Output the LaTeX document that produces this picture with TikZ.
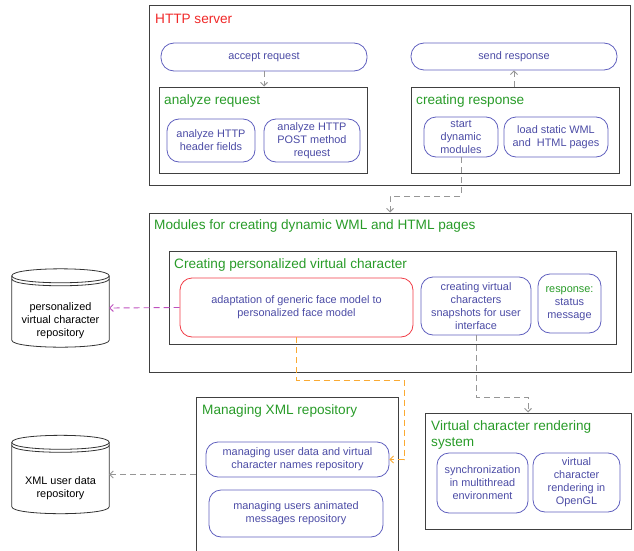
\documentclass[tikz,border=0pt]{standalone}
\usepackage{fontspec}
\setmainfont{Liberation Sans}
\usetikzlibrary{arrows.meta}
\definecolor{taskline}{RGB}{95,95,190}
\definecolor{tasktext}{RGB}{75,75,165}
\definecolor{titlegreen}{RGB}{40,155,40}
\definecolor{titlered}{RGB}{240,40,40}
\definecolor{adaptred}{RGB}{240,60,70}
\definecolor{linkgray}{RGB}{150,150,150}
\definecolor{linkmagenta}{RGB}{190,80,190}
\definecolor{linkorange}{RGB}{250,170,50}

\begin{document}
\begin{tikzpicture}[x=1pt,y=-1pt]

\tikzstyle{frame}=[rectangle, draw=black!75, line width=1pt, inner sep=0pt]
\tikzstyle{title}=[anchor=base west, inner sep=0pt, text=titlegreen, font=\fontsize{13.6}{16}\selectfont]
\tikzstyle{task}=[rectangle, rounded corners=12pt, draw=taskline, line width=0.8pt, text=tasktext, align=center, inner sep=0pt, font=\fontsize{10.9}{13}\selectfont]
\tikzstyle{store}=[rectangle, inner sep=0pt, minimum width=97pt, minimum height=78pt]
\tikzstyle{storeline}=[draw=black!80, line width=0.8pt]
\tikzstyle{storetext}=[align=center, inner sep=0pt, font=\fontsize{10.9}{13}\selectfont]
\tikzstyle{link}=[-{Straight Barb[length=3.5pt,width=7pt]}, dash pattern=on 6pt off 4pt, line width=0.9pt, draw=linkgray]

\clip (0,0) rectangle (634,551);

% frames
\node (http) [frame, minimum width=481pt, minimum height=179pt] at (389.5,95.5) {};
\node (anreq) [frame, minimum width=208pt, minimum height=86pt] at (263,130) {};
\node (crresp) [frame, minimum width=208pt, minimum height=86pt] at (515,130) {};
\node (modules) [frame, minimum width=482pt, minimum height=159pt] at (390,292.5) {};
\node (creatpvc) [frame, minimum width=447pt, minimum height=93pt] at (392.5,297.5) {};
\node (xmlrep) [frame, minimum width=202pt, minimum height=163pt] at (297,478.5) {};
\node (vcrs) [frame, minimum width=206pt, minimum height=116pt] at (528,471) {};

% titles
\node (httptitle) [title, text=titlered] at (155,24) {HTTP server};
\node (anreqtitle) [title] at (164,104) {analyze request};
\node (crresptitle) [title] at (416,104) {creating response};
\node (modtitle) [title] at (154,229) {Modules for creating dynamic WML and HTML pages};
\node (pvctitle) [title] at (174,268) {Creating personalized virtual character};
\node (xmltitle) [title] at (202,414) {Managing XML repository};
\node (vcrstitle) [title, align=left] at (431,446) {Virtual character rendering\\system};

% tasks
\node (accept) [task, minimum width=206pt, minimum height=28pt, rounded corners=13pt] at (264,57) {accept request};
\node (send) [task, minimum width=206pt, minimum height=27pt, rounded corners=13pt] at (514,56.5) {send response};
\node (hdr) [task, minimum width=88pt, minimum height=43pt] at (211,140.5) {analyze HTTP\\header fields};
\node (post) [task, minimum width=96pt, minimum height=43pt] at (312,140.5) {analyze HTTP\\POST method\\request};
\node (startdyn) [task, minimum width=74pt, minimum height=40pt] at (461,137) {start\\dynamic\\modules};
\node (loadstatic) [task, minimum width=104pt, minimum height=40pt] at (556,137) {load static WML\\and~ HTML pages};
\node (adapt) [task, draw=adaptred, minimum width=233pt, minimum height=59pt] at (296.5,307.5) {adaptation of generic face model to\\personalized face model};
\node (snap) [task, minimum width=110pt, minimum height=58pt] at (476,306) {creating virtual\\characters\\snapshots for user\\interface};
\node (status) [task, minimum width=63pt, minimum height=59pt] at (569.5,303.5) {\textcolor{titlegreen}{response:}\\status\\message};
\node (mud) [task, minimum width=183pt, minimum height=35pt] at (297.5,459.5) {managing user data and virtual\\character names repository};
\node (mam) [task, minimum width=174pt, minimum height=47pt] at (296,513.5) {managing users animated\\messages repository};
\node (sync) [task, minimum width=91pt, minimum height=60pt] at (482.5,483) {synchronization\\in multithread\\environment};
\node (ogl) [task, minimum width=87pt, minimum height=59pt] at (576.5,482.5) {virtual\\character\\rendering in\\OpenGL};

% repositories
\node (pvc) [store] at (60.5,308) {};
\node (pvclabel) [storetext] at ([yshift=-13pt]pvc.center) {personalized\\virtual character\\repository};
\node (xmlud) [store] at (60.5,474.5) {};
\node (xmludlabel) [storetext] at ([yshift=-14pt]xmlud.center) {XML user data\\repository};
\foreach \db in {pvc,xmlud} {
  \draw [storeline] ([yshift=-7pt]\db.north west) -- ([yshift=7pt]\db.south west)
    .. controls +(0,9.3) and +(0,9.3) .. ([yshift=7pt]\db.south east)
    -- ([yshift=-7pt]\db.north east)
    .. controls +(0,-9.3) and +(0,-9.3) .. cycle;
  \draw [storeline] ([yshift=-7pt]\db.north west) .. controls +(0,9.3) and +(0,9.3) .. ([yshift=-7pt]\db.north east);
  \draw [storeline] ([yshift=-10pt]\db.north west) .. controls +(0,9.3) and +(0,9.3) .. ([yshift=-10pt]\db.north east);
}

% connectors
\draw [link] (accept.south) -- (accept.south |- anreq.north);
\draw [link] (send.south |- crresp.north) -- (send.south);
\draw [link] (startdyn.south) -- ++(0,39) -| (modules.north);
\draw [link, draw=linkmagenta] (adapt.west) -- (pvc.east);
\draw [link, draw=linkorange] (adapt.south) -- ++(0,43) -| ([xshift=15pt]mud.east) -- (mud.east);
\draw [link] (snap.south) -- ++(0,62) -| (vcrs.north);
\draw [link] (xmlud.east -| xmlrep.west) -- (xmlud.east);

\end{tikzpicture}
\end{document}
